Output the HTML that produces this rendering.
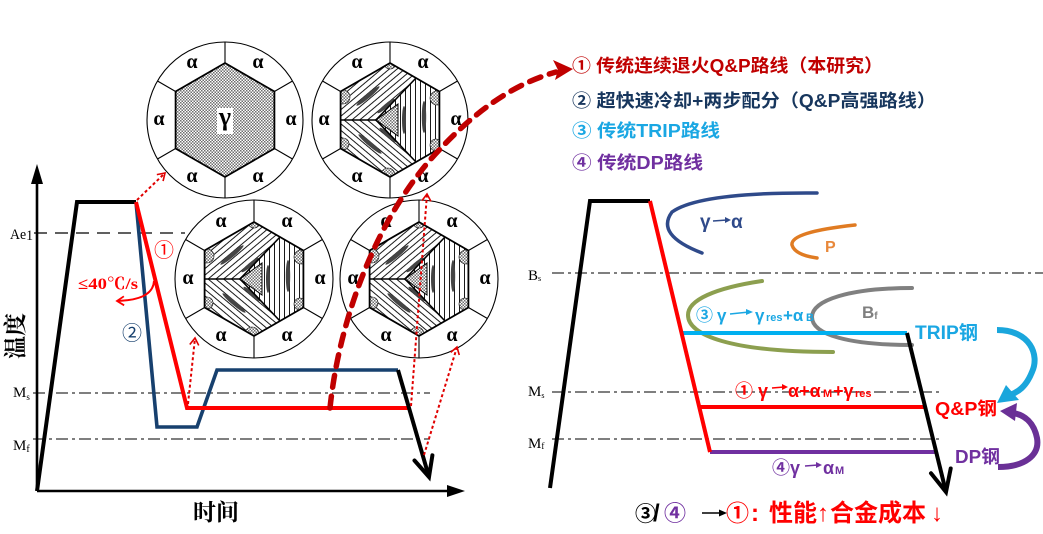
<!DOCTYPE html>
<html><head><meta charset="utf-8">
<style>html,body{margin:0;padding:0;background:#fff;}svg{display:block;}</style>
</head><body>
<svg width="1043" height="534" viewBox="0 0 1043 534" xmlns="http://www.w3.org/2000/svg">
<defs>
 <pattern id="chk" width="3" height="3" patternUnits="userSpaceOnUse">
  <rect width="3" height="3" fill="#fff"/>
  <rect width="1.5" height="1.5" fill="#6e6e6e"/>
  <rect x="1.5" y="1.5" width="1.5" height="1.5" fill="#6e6e6e"/>
 </pattern>
 <pattern id="hA" width="5" height="5" patternUnits="userSpaceOnUse" patternTransform="rotate(50)">
  <rect width="5" height="5" fill="#fff"/>
  <line x1="0.5" y1="0" x2="0.5" y2="5" stroke="#000" stroke-width="0.9"/>
 </pattern>
 <pattern id="hB" width="5" height="5" patternUnits="userSpaceOnUse" patternTransform="rotate(-50)">
  <rect width="5" height="5" fill="#fff"/>
  <line x1="0.5" y1="0" x2="0.5" y2="5" stroke="#000" stroke-width="0.9"/>
 </pattern>
 <pattern id="hV" width="5" height="5" patternUnits="userSpaceOnUse">
  <rect width="5" height="5" fill="#fff"/>
  <line x1="0.5" y1="0" x2="0.5" y2="5" stroke="#000" stroke-width="0.9"/>
 </pattern>
 <clipPath id="hexc"><polygon points="0,-57 49.4,-28.5 49.4,28.5 0,57 -49.4,28.5 -49.4,-28.5"/></clipPath>
 <marker id="ra" markerWidth="12" markerHeight="12" refX="9" refY="6" orient="auto" markerUnits="userSpaceOnUse">
  <path d="M2,1.5 L9,6 L2,10.5" fill="none" stroke="#e00000" stroke-width="1.6"/>
 </marker>
 <marker id="rb" markerWidth="12" markerHeight="12" refX="9" refY="6" orient="auto" markerUnits="userSpaceOnUse">
  <path d="M2,1.5 L9,6 L2,10.5" fill="none" stroke="#ff0000" stroke-width="1.8"/>
 </marker>
</defs>

<!-- ============ LEFT CHART ============ -->
<line x1="34" y1="233" x2="185" y2="233" stroke="#000" stroke-width="1.2" stroke-dasharray="13 8"/>
<line x1="33" y1="393" x2="430" y2="393" stroke="#333" stroke-width="1.2" stroke-dasharray="12 4 3 4"/>
<line x1="33" y1="439" x2="430" y2="439" stroke="#333" stroke-width="1.2" stroke-dasharray="12 4 3 4"/>

<line x1="37" y1="491" x2="37" y2="178" stroke="#000" stroke-width="2.6"/>
<polygon points="37,164 31,184 43,184" fill="#000"/>
<line x1="37" y1="491" x2="450" y2="491" stroke="#000" stroke-width="2.6"/>
<polygon points="465,491 447,485 447,497" fill="#000"/>

<polyline points="37,491 77,202 136,202" fill="none" stroke="#000" stroke-width="4"/>
<polyline points="136,202 157,427 197,427 217,370 398,370" fill="none" stroke="#17406e" stroke-width="3.6"/>
<polyline points="136,202 187,408 410,408" fill="none" stroke="#ff0000" stroke-width="4"/>
<line x1="398" y1="370" x2="429" y2="477" stroke="#000" stroke-width="4"/>
<polyline points="414.5,460.5 429,477 432.4,455.3" fill="none" stroke="#000" stroke-width="4" stroke-linecap="round"/>

<!-- circle A -->
<g transform="translate(225,120)">
 <circle r="78" fill="#fff" stroke="#000" stroke-width="1.1"/>
 <path d="M0,-57V-78M49.4,-28.5L67.5,-39M49.4,28.5L67.5,39M0,57V78M-49.4,28.5L-67.5,39M-49.4,-28.5L-67.5,-39" stroke="#000" stroke-width="1.1"/>
 <polygon points="0,-57 49.4,-28.5 49.4,28.5 0,57 -49.4,28.5 -49.4,-28.5" fill="url(#chk)" stroke="#000" stroke-width="1.8"/>
 <rect x="-8" y="-12" width="16" height="26" fill="#fff"/>
 <text x="0" y="5" text-anchor="middle" font-family="Liberation Serif, serif" font-weight="bold" font-size="26">γ</text>
 <g font-family="Liberation Serif, serif" font-weight="bold" font-size="20" text-anchor="middle">
  <text x="66" y="5">α</text><text x="33" y="-52">α</text><text x="-33" y="-52">α</text>
  <text x="-66" y="5">α</text><text x="-33" y="62">α</text><text x="33" y="62">α</text>
 </g>
</g>

<!-- circle B -->
<g transform="translate(390,120)">
 <circle r="78" fill="#fff" stroke="#000" stroke-width="1.1"/>
 <path d="M0,-57V-78M49.4,-28.5L67.5,-39M49.4,28.5L67.5,39M0,57V78M-49.4,28.5L-67.5,39M-49.4,-28.5L-67.5,-39" stroke="#000" stroke-width="1.1"/>
 <polygon points="-49.4,0 -49.4,-28.5 0,-57 26,-42 -14,0" fill="url(#hA)"/>
 <polygon points="-49.4,0 -49.4,28.5 0,57 26,42 -14,0" fill="url(#hB)"/>
 <polygon points="26,-42 49.4,-28.5 49.4,28.5 26,42 -14,0" fill="url(#hV)"/>
 <g clip-path="url(#hexc)" fill="url(#chk)" stroke="#000" stroke-width="0.6">
  <circle cx="-47" cy="-23" r="7"/><circle cx="47" cy="-22" r="7"/><circle cx="46" cy="25" r="6"/>
  <circle cx="-2" cy="55" r="7"/><circle cx="-47" cy="24" r="6"/><circle cx="0" cy="-57" r="6"/>
 </g>
 <g fill="#444">
  <ellipse cx="-22" cy="-24" rx="15" ry="2.2" transform="rotate(-40 -22 -24)"/>
  <ellipse cx="-4" cy="-14" rx="11" ry="2" transform="rotate(-40 -4 -14)"/>
  <ellipse cx="-20" cy="24" rx="15" ry="2.2" transform="rotate(40 -20 24)"/>
  <ellipse cx="-2" cy="15" rx="11" ry="2" transform="rotate(40 -2 15)"/>
  <ellipse cx="14" cy="0" rx="2" ry="14"/><ellipse cx="34" cy="-3" rx="2.2" ry="16"/>
 </g>
 <polygon points="-14,0 8,-16 8,16" fill="url(#chk)" stroke="#000" stroke-width="1"/>
 <polygon points="0,-57 49.4,-28.5 49.4,28.5 0,57 -49.4,28.5 -49.4,-28.5" fill="none" stroke="#000" stroke-width="1.8"/>
 <path d="M-49.4,0H-14L26,-42M-14,0L26,42" fill="none" stroke="#000" stroke-width="1.6"/>
 <g font-family="Liberation Serif, serif" font-weight="bold" font-size="20" text-anchor="middle">
  <text x="66" y="5">α</text><text x="33" y="-52">α</text><text x="-33" y="-52">α</text>
  <text x="-66" y="5">α</text><text x="-33" y="62">α</text><text x="33" y="62">α</text>
 </g>
</g>

<!-- circle C -->
<g transform="translate(254,279)">
 <circle r="79" fill="#fff" stroke="#000" stroke-width="1.1"/>
 <path d="M0,-57V-79M49.4,-28.5L68.4,-39.5M49.4,28.5L68.4,39.5M0,57V79M-49.4,28.5L-68.4,39.5M-49.4,-28.5L-68.4,-39.5" stroke="#000" stroke-width="1.1"/>
 <polygon points="-49.4,0 -49.4,-28.5 0,-57 26,-42 -14,0" fill="url(#hA)"/>
 <polygon points="-49.4,0 -49.4,28.5 0,57 26,42 -14,0" fill="url(#hB)"/>
 <polygon points="26,-42 49.4,-28.5 49.4,28.5 26,42 -14,0" fill="url(#hV)"/>
 <g clip-path="url(#hexc)" fill="url(#chk)" stroke="#000" stroke-width="0.6">
  <circle cx="-47" cy="-23" r="7"/><circle cx="47" cy="-22" r="7"/><circle cx="46" cy="25" r="6"/>
  <circle cx="-2" cy="55" r="7"/><circle cx="-47" cy="24" r="6"/><circle cx="0" cy="-57" r="6"/>
 </g>
 <g fill="#444">
  <ellipse cx="-22" cy="-24" rx="15" ry="2.2" transform="rotate(-40 -22 -24)"/>
  <ellipse cx="-4" cy="-14" rx="11" ry="2" transform="rotate(-40 -4 -14)"/>
  <ellipse cx="-20" cy="24" rx="15" ry="2.2" transform="rotate(40 -20 24)"/>
  <ellipse cx="-2" cy="15" rx="11" ry="2" transform="rotate(40 -2 15)"/>
  <ellipse cx="14" cy="0" rx="2" ry="14"/><ellipse cx="34" cy="-3" rx="2.2" ry="16"/>
 </g>
 <polygon points="-14,0 8,-16 8,16" fill="url(#chk)" stroke="#000" stroke-width="1"/>
 <polygon points="0,-57 49.4,-28.5 49.4,28.5 0,57 -49.4,28.5 -49.4,-28.5" fill="none" stroke="#000" stroke-width="1.8"/>
 <path d="M-49.4,0H-14L26,-42M-14,0L26,42" fill="none" stroke="#000" stroke-width="1.6"/>
 <g font-family="Liberation Serif, serif" font-weight="bold" font-size="20" text-anchor="middle">
  <text x="66" y="5">α</text><text x="33" y="-52">α</text><text x="-33" y="-52">α</text>
  <text x="-66" y="5">α</text><text x="-33" y="62">α</text><text x="33" y="62">α</text>
 </g>
</g>

<!-- circle D -->
<g transform="translate(419,279)">
 <circle r="79" fill="#fff" stroke="#000" stroke-width="1.1"/>
 <path d="M0,-57V-79M49.4,-28.5L68.4,-39.5M49.4,28.5L68.4,39.5M0,57V79M-49.4,28.5L-68.4,39.5M-49.4,-28.5L-68.4,-39.5" stroke="#000" stroke-width="1.1"/>
 <polygon points="-49.4,0 -49.4,-28.5 0,-57 26,-42 -14,0" fill="url(#hA)"/>
 <polygon points="-49.4,0 -49.4,28.5 0,57 26,42 -14,0" fill="url(#hB)"/>
 <polygon points="26,-42 49.4,-28.5 49.4,28.5 26,42 -14,0" fill="url(#hV)"/>
 <g clip-path="url(#hexc)" fill="url(#chk)" stroke="#000" stroke-width="0.6">
  <circle cx="-47" cy="-23" r="7"/><circle cx="47" cy="-22" r="7"/><circle cx="46" cy="25" r="6"/>
  <circle cx="-2" cy="55" r="7"/><circle cx="-47" cy="24" r="6"/><circle cx="0" cy="-57" r="6"/>
 </g>
 <g fill="#444">
  <ellipse cx="-22" cy="-24" rx="15" ry="2.2" transform="rotate(-40 -22 -24)"/>
  <ellipse cx="-4" cy="-14" rx="11" ry="2" transform="rotate(-40 -4 -14)"/>
  <ellipse cx="-20" cy="24" rx="15" ry="2.2" transform="rotate(40 -20 24)"/>
  <ellipse cx="-2" cy="15" rx="11" ry="2" transform="rotate(40 -2 15)"/>
  <ellipse cx="14" cy="0" rx="2" ry="14"/><ellipse cx="34" cy="-3" rx="2.2" ry="16"/>
 </g>
 <polygon points="-14,0 8,-16 8,16" fill="url(#chk)" stroke="#000" stroke-width="1"/>
 <polygon points="0,-57 49.4,-28.5 49.4,28.5 0,57 -49.4,28.5 -49.4,-28.5" fill="none" stroke="#000" stroke-width="1.8"/>
 <path d="M-49.4,0H-14L26,-42M-14,0L26,42" fill="none" stroke="#000" stroke-width="1.6"/>
 <g font-family="Liberation Serif, serif" font-weight="bold" font-size="20" text-anchor="middle">
  <text x="66" y="5">α</text><text x="33" y="-52">α</text><text x="-33" y="-52">α</text>
  <text x="-66" y="5">α</text><text x="-33" y="62">α</text><text x="33" y="62">α</text>
 </g>
</g>

<!-- dotted red arrows -->
<g fill="none" stroke="#e00000" stroke-width="2" stroke-dasharray="3 2.5">
 <line x1="137" y1="200" x2="165" y2="173" marker-end="url(#ra)"/>
 <line x1="188" y1="404" x2="195" y2="338" marker-end="url(#ra)"/>
 <line x1="411" y1="406" x2="427" y2="194" marker-end="url(#ra)"/>
 <line x1="424" y1="455" x2="457" y2="347" marker-end="url(#ra)"/>
</g>

<!-- big dashed curve -->
<path d="M330,408 C338,330 370,230 430,160 C470,115 510,85 556,72" fill="none" stroke="#c00000" stroke-width="5.5" stroke-dasharray="12 9" stroke-linecap="round"/>
<polygon points="573,69 553,60 558,70 555,80" fill="#c00000"/>

<!-- left labels -->
<g font-family="Liberation Serif, serif" font-size="15" fill="#000">
 <text x="10" y="239" textLength="23" lengthAdjust="spacingAndGlyphs">Ae<tspan dy="1">1</tspan></text>
 <text x="13" y="397">M<tspan font-size="9" dy="3">s</tspan></text>
 <text x="13" y="450">M<tspan font-size="10" dy="2">f</tspan></text>
</g>
<text transform="translate(23,336) rotate(-90)" text-anchor="middle" font-family="Liberation Serif, 'Noto Serif CJK SC', serif" font-weight="bold" font-size="23">温度</text>
<text x="216" y="520" text-anchor="middle" font-family="Liberation Serif, 'Noto Serif CJK SC', serif" font-weight="bold" font-size="23">时间</text>

<text x="164" y="257" text-anchor="middle" font-family="'Liberation Sans', 'Noto Sans CJK SC', sans-serif" font-size="20" fill="#ff0000">①</text>
<text x="132" y="340" text-anchor="middle" font-family="'Liberation Sans', 'Noto Sans CJK SC', sans-serif" font-size="20" fill="#17406e">②</text>
<text x="78" y="289" textLength="60" lengthAdjust="spacingAndGlyphs" font-family="'Liberation Serif', 'Noto Serif CJK SC', serif" font-weight="bold" font-size="16" fill="#ff0000">≤40℃/s</text>
<path d="M154,281 Q153,300 117,301" fill="none" stroke="#ff0000" stroke-width="2" marker-end="url(#rb)"/>

<!-- ============ LEGEND ============ -->
<g font-family="'Liberation Sans', 'Noto Sans CJK SC', sans-serif" font-weight="bold" font-size="18">
 <text x="572" y="72" fill="#c00000" textLength="311" lengthAdjust="spacingAndGlyphs">① 传统连续退火Q&amp;P路线（本研究）</text>
 <text x="572" y="107" fill="#17365d" textLength="364" lengthAdjust="spacingAndGlyphs">② 超快速冷却+两步配分（Q&amp;P高强路线）</text>
 <text x="572" y="137" fill="#1aa7e3" textLength="148" lengthAdjust="spacingAndGlyphs">③ 传统TRIP路线</text>
 <text x="572" y="169" fill="#7030a0" textLength="131" lengthAdjust="spacingAndGlyphs">④ 传统DP路线</text>
</g>

<!-- ============ RIGHT CHART ============ -->
<g stroke="#333" stroke-width="1.2" stroke-dasharray="12 4 3 4">
 <line x1="552" y1="273" x2="1043" y2="273"/>
 <line x1="552" y1="392" x2="942" y2="392"/>
 <line x1="552" y1="439" x2="942" y2="439"/>
</g>
<g font-family="Liberation Serif, serif" font-size="15" fill="#000">
 <text x="528" y="280">B<tspan font-size="8" dy="1">s</tspan></text>
 <text x="528" y="396">M<tspan font-size="8" dy="2">s</tspan></text>
 <text x="528" y="448">M<tspan font-size="9" dy="1">f</tspan></text>
</g>

<!-- arcs -->
<g fill="none" stroke-linecap="round">
 <path d="M817,193 Q700,192 672,212 Q655,235 702,253" stroke="#2f4a8a" stroke-width="3.5"/>
 <path d="M855,225 Q790,232 792,245 Q795,255 817,258" stroke="#e07b22" stroke-width="3.5"/>
 <path d="M762,281 C715,288 688,300 688,315 C688,335 730,352 833,352" stroke="#8c9f4f" stroke-width="4"/>
 <path d="M912,288 C850,288 812,300 812,317 C812,335 850,345 912,345" stroke="#808080" stroke-width="4"/>
</g>

<polyline points="550,488 590,201 650,201" fill="none" stroke="#000" stroke-width="4"/>
<line x1="681" y1="333" x2="907" y2="333" stroke="#00b0f0" stroke-width="4"/>
<line x1="710" y1="452" x2="937" y2="452" stroke="#7030a0" stroke-width="4"/>
<line x1="699" y1="407" x2="925" y2="407" stroke="#ff0000" stroke-width="4"/>
<line x1="650" y1="201" x2="710" y2="452" stroke="#ff0000" stroke-width="4"/>
<line x1="907" y1="333" x2="946" y2="492" stroke="#000" stroke-width="4"/>
<polyline points="931,473.3 946,492 950.7,468.5" fill="none" stroke="#000" stroke-width="4" stroke-linecap="round"/>

<!-- curved side arrows -->
<path d="M997,330 C1030,330 1040,355 1032,372 C1026,387 1018,392 1010,395" fill="none" stroke="#1aa6dc" stroke-width="6"/>
<polygon points="997,403 1006,385 1019,400" fill="#1aa6dc"/>
<path d="M998,467 C1025,467 1040,455 1037,438 C1034,423 1025,415 1013,413" fill="none" stroke="#6a3096" stroke-width="6"/>
<polygon points="1000,411 1017,403 1015,421" fill="#6a3096"/>

<!-- annotations -->
<g font-family="'Liberation Sans', 'Noto Sans CJK SC', sans-serif" font-weight="bold">
 <text y="228" font-size="19" fill="#2f4a8a"><tspan x="700">γ</tspan><tspan x="731">α</tspan></text>
 <text x="825" y="252" font-size="16" fill="#e8883a">P</text>
 <text x="862" y="318" font-size="17" fill="#7f7f7f">B<tspan font-size="10" dy="1">f</tspan></text>

 <text y="321" font-size="17" fill="#1aa7e3"><tspan x="696">③</tspan><tspan x="717">γ</tspan><tspan x="755">γ</tspan><tspan x="766" font-size="11">res</tspan><tspan x="783" font-size="17">+α</tspan><tspan x="806" font-size="11">B</tspan></text>
 <text x="915" y="339" font-size="19" fill="#1aa7e3" textLength="63" lengthAdjust="spacingAndGlyphs">TRIP钢</text>

 <text y="397" font-size="18" fill="#ff0000"><tspan x="735">①</tspan><tspan x="758">γ</tspan><tspan x="788">α+α</tspan><tspan x="823" font-size="11">M</tspan><tspan x="833" font-size="18">+γ</tspan><tspan x="855" font-size="11">res</tspan></text>
 <text x="935" y="415" font-size="18" fill="#ff0000" textLength="62" lengthAdjust="spacingAndGlyphs">Q&amp;P钢</text>

 <text y="474" font-size="18" fill="#7030a0"><tspan x="772">④</tspan><tspan x="790">γ</tspan><tspan x="823">α</tspan><tspan x="835" font-size="11">M</tspan></text>
 <text x="955" y="463" font-size="18" fill="#7030a0" textLength="45" lengthAdjust="spacingAndGlyphs">DP钢</text>

 <text y="521" font-size="24"><tspan x="635" fill="#000" font-size="21">③</tspan><tspan x="653" fill="#000">/</tspan><tspan x="664" fill="#7030a0" font-size="22">④</tspan><tspan x="726" fill="#ff0000" font-size="23">①</tspan><tspan x="751" fill="#ff0000">:</tspan><tspan x="769" fill="#ff0000">性能</tspan><tspan x="817" fill="#ff0000">↑</tspan><tspan x="830" fill="#ff0000">合金成本</tspan><tspan x="931" fill="#ff0000">↓</tspan></text>
</g>

<!-- small arrows in formulas -->
<g stroke-width="1.6">
 <line x1="713" y1="221" x2="727" y2="220" stroke="#2f4a8a"/><polygon points="731,220 725,217 725,223" fill="#2f4a8a"/>
 <line x1="730" y1="314" x2="749" y2="312" stroke="#1aa7e3"/><polygon points="753,312 746,309 746,315" fill="#1aa7e3"/>
 <line x1="772" y1="388" x2="784" y2="387" stroke="#ff0000"/><polygon points="788,387 782,384 782,390" fill="#ff0000"/>
 <line x1="805" y1="466" x2="818" y2="465" stroke="#7030a0"/><polygon points="822,465 816,462 816,468" fill="#7030a0"/>
 <line x1="702" y1="513" x2="722" y2="513" stroke="#000"/><polygon points="727,513 719,509.5 719,516.5" fill="#000"/>
</g>
</svg>
</body></html>
